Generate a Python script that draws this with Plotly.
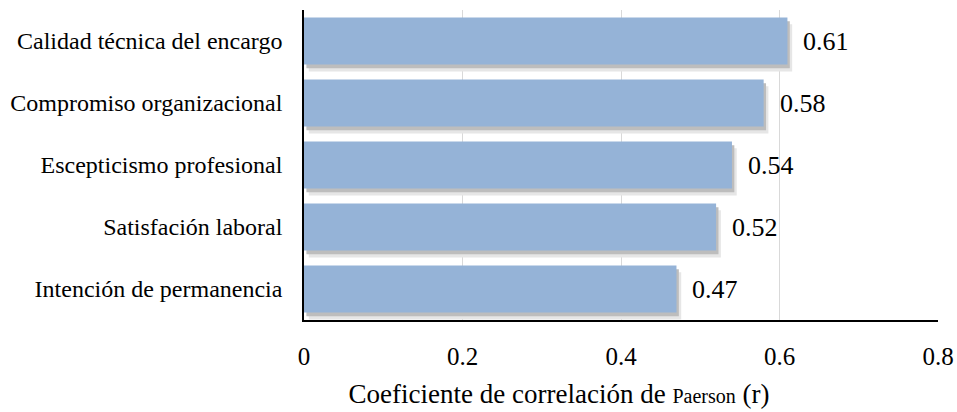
import plotly.graph_objects as go

categories = ["Calidad técnica del encargo", "Compromiso organizacional",
              "Escepticismo profesional", "Satisfación laboral",
              "Intención de permanencia"]
values = [0.61, 0.58, 0.54, 0.52, 0.47]
x_ticks = [0, 0.2, 0.4, 0.6, 0.8]
x_tick_labels = ["0", "0.2", "0.4", "0.6", "0.8"]

FONT = "Liberation Serif"
BAR_W = 0.76

fig = go.Figure()
# soft drop shadow (two layers)
fig.add_trace(go.Bar(y=categories, x=values, base=0.006, orientation="h",
                     width=BAR_W, offset=-BAR_W / 2 + 0.11,
                     marker=dict(color="#e6e6e6", line=dict(width=0)),
                     hoverinfo="skip", showlegend=False))
fig.add_trace(go.Bar(y=categories, x=values, base=0.003, orientation="h",
                     width=BAR_W, offset=-BAR_W / 2 + 0.06,
                     marker=dict(color="#bdbdbd", line=dict(width=0)),
                     hoverinfo="skip", showlegend=False))
fig.add_trace(go.Bar(y=categories, x=values, orientation="h",
                     width=BAR_W, offset=-BAR_W / 2,
                     marker=dict(color="#95B3D7", line=dict(width=0)),
                     showlegend=False))

for c, v in zip(categories, values):
    fig.add_annotation(x=v, y=c, text=f"{v:.2f}", showarrow=False,
                       xanchor="left", yanchor="middle", xshift=14, yshift=0,
                       font=dict(family=FONT, size=26, color="#000"))

fig.update_layout(
    width=957, height=412,
    margin=dict(l=304, r=19, t=10, b=92, autoexpand=False),
    paper_bgcolor="white", plot_bgcolor="white",
    barmode="overlay",
    font=dict(family=FONT, color="#000"),
    title=dict(text="Coeficiente de correlación de <span style='font-size:20px'>Paerson</span> (r)",
               font=dict(family=FONT, size=27, color="#000"),
               x=559 / 957, xanchor="center", xref="container",
               y=(412 - 394) / 412, yanchor="middle", yref="container"),
    xaxis=dict(range=[0, 0.8], tickvals=x_ticks, ticktext=x_tick_labels,
               showgrid=True, gridcolor="#d9d9d9", gridwidth=1,
               showline=True, linecolor="#000", linewidth=1.5,
               ticks="", zeroline=False, ticklabelstandoff=13,
               automargin=False,
               tickfont=dict(family=FONT, size=25, color="#000")),
    yaxis=dict(categoryorder="array", categoryarray=categories,
               range=[4.5, -0.5], showgrid=False,
               showline=True, linecolor="#000", linewidth=1.5,
               ticks="", ticklabelstandoff=15, automargin=False,
               tickfont=dict(family=FONT, size=24, color="#000")),
)

fig.write_html("out.html", post_script="document.body.style.margin='0';",
               config={"displayModeBar": False})
